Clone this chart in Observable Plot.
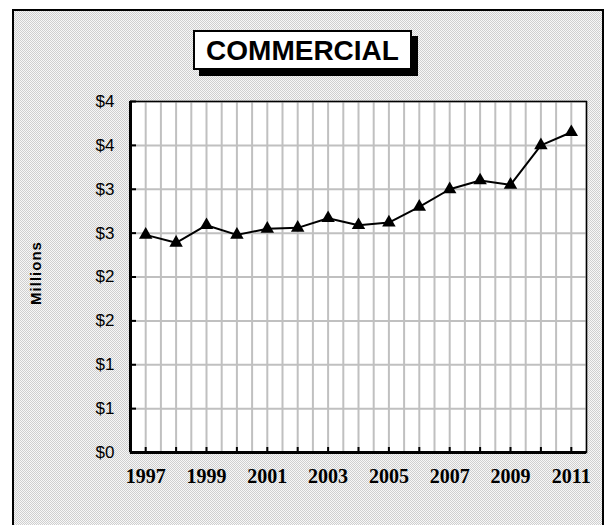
<!DOCTYPE html>
<html><head><meta charset="utf-8">
<script src="https://cdn.jsdelivr.net/npm/d3@7"></script>
<script src="https://cdn.jsdelivr.net/npm/@observablehq/plot@0.6"></script>
<style>
body{margin:0;width:605px;height:525px;overflow:hidden;background:#fff;position:relative;font-family:"Liberation Sans",Arial,sans-serif}
#panel{position:absolute;left:12px;top:9px;width:588px;height:540px;border:2px solid #000;background-color:#e4e4e4;background-image:repeating-conic-gradient(#cfcfcf 0% 25%, #f7f7f7 0% 50%);background-size:2px 2px;}
#chart{position:absolute;left:0;top:0}
#title{position:absolute;left:193px;top:30px;width:215px;height:36px;border:2px solid #000;background:#fff;box-shadow:6px 6px 0 #000;text-align:center;line-height:37px;font-weight:bold;font-size:28px;color:#000}
</style>
</head><body>
<div id="panel"></div>
<div id="chart"></div>
<div id="title">COMMERCIAL</div>
<script>
const years = [1997,1998,1999,2000,2001,2002,2003,2004,2005,2006,2007,2008,2009,2010,2011];
const values = [2.48,2.39,2.59,2.48,2.55,2.56,2.67,2.59,2.62,2.80,3.00,3.10,3.05,3.50,3.65];
const yTicks = [0,0.5,1,1.5,2,2.5,3,3.5,4];
const yTickLabels = ["$0","$1","$1","$2","$2","$3","$3","$4","$4"];
const xTickLabels = [1997,1999,2001,2003,2005,2007,2009,2011];
const yLabel = "Millions";

const data = years.map((year,i)=>({year, value: values[i]}));
const gridX = [...years, ...years.map(y=>y+0.5)];
const sans = "'Liberation Sans', Arial, sans-serif";
const serif = "'Liberation Serif', 'Times New Roman', serif";

const chart = Plot.plot({
  width:605, height:525,
  marginLeft:130, marginTop:101, marginRight:19, marginBottom:73,
  style:{background:"transparent", overflow:"visible", fontFamily:sans, color:"#000"},
  x:{domain:[1996.5,2011.5], axis:null},
  y:{domain:[0,4], axis:null},
  marks:[
    Plot.frame({fill:"white", stroke:"none"}),
    Plot.ruleX(gridX, {stroke:"#c0c0c0", strokeWidth:2}),
    Plot.ruleY(yTicks, {stroke:"#c0c0c0", strokeWidth:2}),
    Plot.frame({stroke:"#000", strokeWidth:1.5}),
    Plot.ruleX([1996.5], {stroke:"#000", strokeWidth:3}),
    Plot.ruleY([0], {stroke:"#000", strokeWidth:3}),
    Plot.axisY({ticks:yTicks, tickSize:0, tickPadding:16, tickFormat:d=>yTickLabels[yTicks.indexOf(d)], fontSize:17, fontFamily:sans, fill:"#000", label:null}),
    Plot.axisY({ticks:yTicks, tickSize:-6, fill:"none", stroke:"#000", strokeWidth:2, label:null}),
    Plot.axisX({ticks:xTickLabels, tickSize:0, tickPadding:16, tickFormat:d=>String(d), fontSize:20, fontWeight:"bold", fontFamily:serif, fill:"#000", label:null}),
    Plot.axisX({ticks:years, tickSize:-5, fill:"none", stroke:"#000", strokeWidth:2, label:null}),
    Plot.text([yLabel], {frameAnchor:"left", textAnchor:"middle", dx:-94, dy:-4, rotate:-90, fontSize:15, fontWeight:"bold", fontFamily:sans, fill:"#000"}),
    Plot.line(data, {x:"year", y:"value", stroke:"#000", strokeWidth:2}),
    Plot.dot(data, {x:"year", y:"value", symbol:"triangle", r:5, fill:"#000", stroke:"none"})
  ]
});
chart.querySelectorAll("text").forEach(t=>{ if(t.textContent===yLabel) t.setAttribute("letter-spacing","1"); });
document.getElementById("chart").appendChild(chart);
</script>
</body></html>
